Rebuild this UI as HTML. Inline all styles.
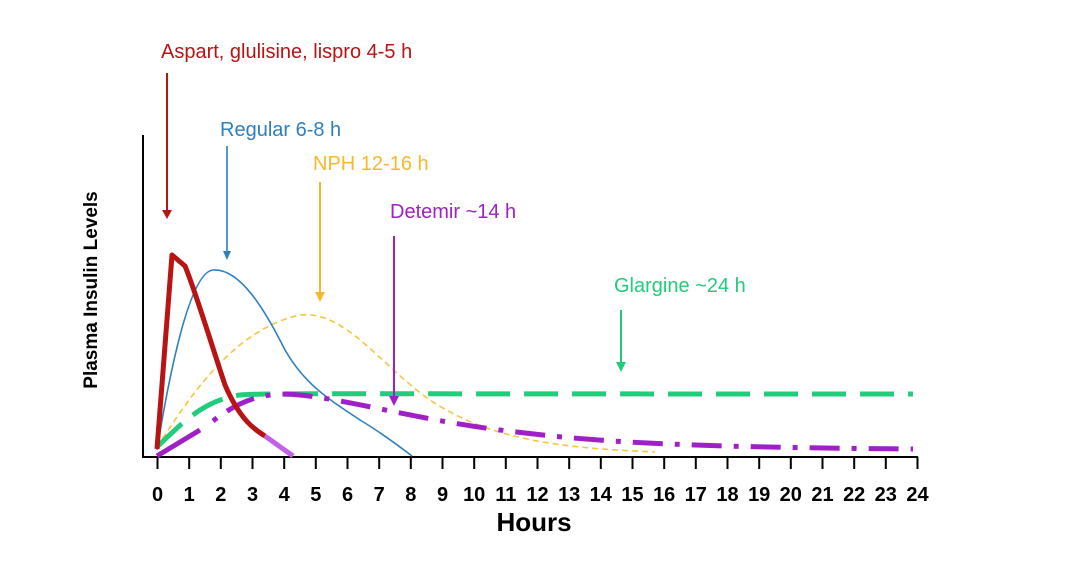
<!DOCTYPE html>
<html><head><style>body{margin:0;background:#fff}svg text{font-family:"Liberation Sans",Arial,sans-serif}</style></head>
<body>
<svg width="1080" height="566" viewBox="0 0 1080 566" xmlns="http://www.w3.org/2000/svg">
<rect width="1080" height="566" fill="#fff"/>
<path d="M143 135 V457 H918" fill="none" stroke="#000" stroke-width="2"/>
<g stroke="#000" stroke-width="2">
<path d="M157.5 457v12M189.2 457v12M220.8 457v12M252.5 457v12M284.2 457v12M315.8 457v12M347.5 457v12M379.2 457v12M410.8 457v12M442.5 457v12M474.2 457v12M505.8 457v12M537.5 457v12M569.2 457v12M600.8 457v12M632.5 457v12M664.2 457v12M695.8 457v12M727.5 457v12M759.2 457v12M790.8 457v12M822.5 457v12M854.2 457v12M885.8 457v12M917.5 457v12"/>
</g>
<g font-size="20" font-weight="bold" text-anchor="middle" fill="#000">
<text x="157.5" y="501">0</text><text x="189.2" y="501">1</text><text x="220.8" y="501">2</text><text x="252.5" y="501">3</text><text x="284.2" y="501">4</text><text x="315.8" y="501">5</text><text x="347.5" y="501">6</text><text x="379.2" y="501">7</text><text x="410.8" y="501">8</text><text x="442.5" y="501">9</text><text x="474.2" y="501">10</text><text x="505.8" y="501">11</text><text x="537.5" y="501">12</text><text x="569.2" y="501">13</text><text x="600.8" y="501">14</text><text x="632.5" y="501">15</text><text x="664.2" y="501">16</text><text x="695.8" y="501">17</text><text x="727.5" y="501">18</text><text x="759.2" y="501">19</text><text x="790.8" y="501">20</text><text x="822.5" y="501">21</text><text x="854.2" y="501">22</text><text x="885.8" y="501">23</text><text x="917.5" y="501">24</text>
</g>
<text x="534" y="531" font-size="26" font-weight="bold" text-anchor="middle">Hours</text>
<text transform="translate(97 290) rotate(-90)" font-size="19" font-weight="bold" text-anchor="middle">Plasma Insulin Levels</text>

<path d="M157 447 C185 405 230 330 300 315 C345 310 380 365 430 400 C490 440 560 448 655 452" fill="none" stroke="#f5c542" stroke-width="1.6" stroke-dasharray="6 4"/>
<path d="M157 450 C170 370 190 272 213 270 C240 268 265 310 285 350 C305 385 330 400 360 420 C385 435 400 447 412 456" fill="none" stroke="#2e7fc0" stroke-width="1.6"/>
<path d="M157 447 C185 420 205 400 240 395 C260 393 280 394 913 394" fill="none" stroke="#22cc7a" stroke-width="5" stroke-dasharray="34 14"/>
<path d="M157 456 L200 430" stroke="#a020c8" stroke-width="5" fill="none"/>
<path d="M213 421 C240 400 265 391 300 395 C350 400 420 420 500 430 C580 440 650 447 913 449" fill="none" stroke="#a020c8" stroke-width="5" stroke-dasharray="5 12 30 12"/>
<path d="M157 449 L172 255 L185 266 C195 290 210 340 225 385 C240 420 255 430 265 436" fill="none" stroke="#b81414" stroke-width="5" stroke-linejoin="round"/>
<path d="M265 436 L293 456" stroke="#c260e8" stroke-width="5"/>

<text x="161" y="58" font-size="20" fill="#b81414">Aspart, glulisine, lispro 4-5 h</text>
<path d="M167 73 V212" stroke="#b81414" stroke-width="2"/><path d="M162 210 L167 219 L172 210Z" fill="#b81414"/>
<text x="220" y="136" font-size="20" fill="#2e7fc0">Regular 6-8 h</text>
<path d="M227 146 V253" stroke="#2e7fc0" stroke-width="1.6"/><path d="M223 251 L227 260 L231 251Z" fill="#2e7fc0"/>
<text x="313" y="170" font-size="20" fill="#f5b82e">NPH 12-16 h</text>
<path d="M320 182 V294" stroke="#f5b82e" stroke-width="2"/><path d="M315 292 L320 302 L325 292Z" fill="#f5b82e"/>
<text x="390" y="218" font-size="20" fill="#a020c8">Detemir ~14 h</text>
<path d="M394 236 V398" stroke="#a020c8" stroke-width="2"/><path d="M389 396 L394 406 L399 396Z" fill="#a020c8"/>
<text x="614" y="292" font-size="20" fill="#22cc7a">Glargine ~24 h</text>
<path d="M621 310 V364" stroke="#22cc7a" stroke-width="2"/><path d="M616 362 L621 372 L626 362Z" fill="#22cc7a"/>
</svg>
</body></html>
